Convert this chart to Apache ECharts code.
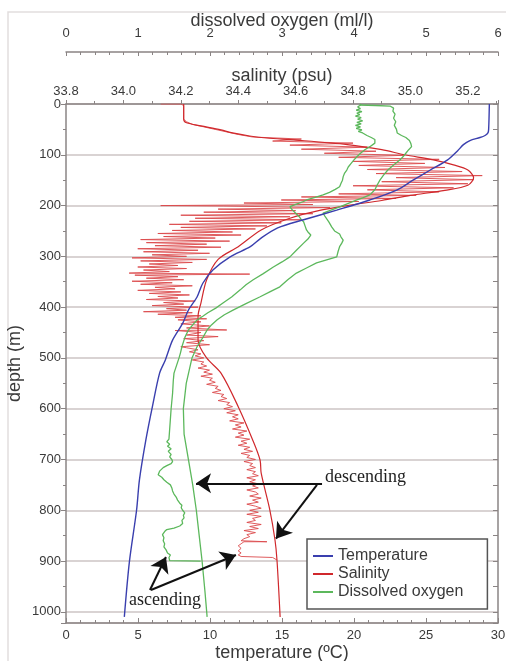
<!DOCTYPE html>
<html><head><meta charset="utf-8">
<script src="https://cdn.jsdelivr.net/npm/echarts@6/dist/echarts.min.js"></script>
<style>html,body{margin:0;padding:0;background:#fff}#c{width:506px;height:661px}</style>
</head><body><div id="c"></div>
<script>
// ---- data: [depth (m), value] ----
const temperatureProfile = [[0,29.4],[50,29.35],[57,29.3],[62,29.1],[66,28.75],[72,28.05],[80,27.6],[92,27.2],[110,26.5],[130,25.3],[150,24.1],[169,23.0],[189,21.1],[209,18.8],[228,16.5],[244,14.7],[265,13.5],[281,12.8],[301,11.4],[327,10.2],[353,9.5],[380,9.1],[406,8.5],[432,8.1],[465,7.4],[504,6.9],[530,6.5],[596,6.0],[661,5.55],[740,5.1],[800,4.9],[902,4.4],[1010,4.05]];

const salinityDescending = [[0,34.21],[30,34.21],[37,34.22],[43,34.27],[51,34.34],[57,34.38],[63,34.44],[67,34.5],[71,34.6],[80,34.78],[90,34.9],[100,34.98],[110,35.08],[120,35.15],[130,35.2],[145,35.22],[160,35.2],[170,35.12],[180,35.0],[190,34.9],[200,34.78],[210,34.68],[225,34.58],[248,34.48],[281,34.4],[306,34.33],[346,34.29],[392,34.27],[418,34.26],[465,34.26],[500,34.29],[530,34.34],[596,34.4],[661,34.45],[701,34.476],[727,34.48],[799,34.51],[858,34.528],[898,34.535],[1010,34.546]];

const salinityAscending = [[898,34.535],[893,34.52],[891,34.41],[888,34.40],[884,34.41],[880,34.40],[875,34.41],[870,34.40],[866,34.41],[862,34.42],[862,34.50],[860,34.41],[856,34.42],[852,34.44],[848,34.43],[844,34.46],[840,34.42],[836,34.47],[832,34.44],[828,34.48],[824,34.43],[820,34.46],[816,34.45],[812,34.48],[808,34.43],[804,34.47],[800,34.44],[796,34.48],[792,34.46],[788,34.43],[784,34.47],[780,34.45],[776,34.48],[772,34.44],[768,34.47],[764,34.46],[760,34.43],[756,34.47],[752,34.45],[748,34.47],[744,34.44],[740,34.46],[736,34.43],[732,34.47],[728,34.45],[724,34.46],[720,34.43],[716,34.46],[712,34.44],[708,34.45],[704,34.42],[700,34.46],[696,34.43],[692,34.44],[688,34.41],[684,34.45],[680,34.42],[676,34.44],[672,34.40],[668,34.43],[664,34.41],[660,34.44],[656,34.39],[652,34.42],[648,34.40],[644,34.43],[640,34.38],[636,34.41],[632,34.39],[628,34.42],[624,34.37],[620,34.40],[616,34.38],[612,34.40],[608,34.36],[604,34.39],[600,34.35],[596,34.38],[592,34.36],[588,34.37],[584,34.33],[580,34.36],[576,34.34],[572,34.35],[568,34.31],[564,34.34],[560,34.32],[556,34.33],[552,34.29],[548,34.32],[544,34.30],[540,34.31],[536,34.27],[532,34.31],[528,34.28],[524,34.30],[520,34.26],[516,34.29],[512,34.27],[508,34.28],[504,34.24],[500,34.28],[496,34.25],[492,34.27],[488,34.23],[484,34.26],[480,34.22],[478,34.20],[474,34.30],[470,34.22],[466,34.28],[462,34.21],[458,34.33],[455,34.22],[450,34.27],[446,34.18],[445,34.36],[441,34.22],[437,34.30],[433,34.20],[429,34.27],[425,34.19],[423,34.29],[420,34.18],[417,34.27],[414,34.12],[411,34.24],[409,34.07],[406,34.22],[403,34.15],[400,34.26],[397,34.10],[394,34.21],[391,34.14],[388,34.25],[385,34.08],[382,34.19],[379,34.12],[376,34.23],[373,34.09],[370,34.20],[367,34.05],[364,34.18],[361,34.11],[358,34.24],[355,34.06],[352,34.17],[349,34.03],[346,34.21],[343,34.08],[340,34.19],[337,34.04],[335,34.44],[333,34.02],[330,34.16],[327,34.07],[324,34.22],[321,34.05],[318,34.19],[315,34.09],[312,34.24],[309,34.06],[306,34.29],[303,34.03],[300,34.22],[297,34.10],[294,34.30],[291,34.07],[288,34.26],[285,34.05],[282,34.34],[279,34.11],[276,34.29],[273,34.08],[270,34.37],[267,34.06],[264,34.32],[261,34.14],[258,34.41],[255,34.12],[252,34.38],[249,34.17],[246,34.46],[243,34.20],[240,34.50],[237,34.16],[234,34.55],[231,34.23],[228,34.62],[225,34.25],[222,34.58],[219,34.20],[216,34.66],[213,34.28],[210,34.60],[207,34.33],[204,34.72],[201,34.35],[200,34.13],[198,34.66],[195,34.42],[192,34.82],[189,34.55],[186,34.95],[183,34.62],[180,35.02],[177,34.75],[173,35.10],[169,34.85],[165,35.15],[161,34.80],[157,35.20],[153,34.90],[149,35.22],[145,34.95],[141,35.25],[137,34.88],[133,35.18],[129,34.85],[125,35.12],[121,34.82],[117,35.05],[113,34.80],[109,35.10],[105,34.75],[101,34.98],[97,34.70],[93,34.88],[89,34.62],[85,34.85],[81,34.58],[77,34.80],[73,34.52],[69,34.62],[65,34.45],[60,34.40],[55,34.36],[50,34.32],[45,34.28],[40,34.24],[35,34.22],[30,34.21],[20,34.21],[10,34.21],[3,34.21],[0,34.20],[0,34.13]];

const oxygenDescending = [[2,4.08],[3,4.30],[4,4.50],[8,4.55],[14,4.54],[20,4.57],[28,4.55],[35,4.58],[42,4.56],[50,4.59],[57,4.60],[62,4.66],[66,4.72],[72,4.77],[78,4.79],[84,4.80],[90,4.76],[97,4.72],[104,4.68],[110,4.64],[120,4.55],[130,4.47],[140,4.41],[150,4.36],[160,4.32],[169,4.29],[179,4.22],[185,4.12],[189,4.04],[195,3.93],[202,3.81],[209,3.68],[215,3.57],[222,3.60],[232,3.65],[242,3.69],[250,3.73],[256,3.80],[262,3.82],[268,3.85],[274,3.83],[281,3.80],[290,3.78],[301,3.76],[307,3.62],[313,3.48],[323,3.34],[333,3.20],[346,3.08],[360,2.97],[370,2.83],[380,2.69],[393,2.50],[406,2.32],[415,2.20],[425,2.10],[435,2.02],[445,1.96],[460,1.90],[478,1.82],[500,1.75],[550,1.67],[600,1.63],[650,1.64],[700,1.70],[750,1.76],[800,1.81],[850,1.85],[900,1.89],[960,1.93],[1010,1.96]];

const oxygenAscending = [[900,1.87],[899,1.44],[893,1.43],[888,1.45],[884,1.41],[878,1.39],[872,1.36],[866,1.37],[860,1.35],[854,1.36],[848,1.34],[842,1.37],[838,1.40],[835,1.50],[831,1.58],[826,1.62],[820,1.61],[815,1.64],[810,1.63],[805,1.65],[800,1.62],[795,1.60],[790,1.61],[786,1.58],[780,1.55],[774,1.53],[768,1.50],[762,1.48],[756,1.47],[750,1.45],[745,1.40],[740,1.36],[735,1.33],[730,1.28],[727,1.26],[723,1.30],[720,1.28],[716,1.35],[712,1.40],[708,1.46],[704,1.48],[700,1.47],[695,1.44],[690,1.46],[684,1.42],[679,1.46],[674,1.41],[670,1.44],[665,1.40],[660,1.43],[640,1.44],[620,1.45],[600,1.46],[570,1.48],[545,1.49],[530,1.50],[500,1.57],[490,1.59],[478,1.61],[460,1.65],[445,1.70],[435,1.76],[425,1.82],[418,1.90],[411,1.97],[402,2.08],[392,2.18],[380,2.30],[366,2.42],[356,2.50],[346,2.60],[334,2.74],[321,2.88],[311,3.00],[301,3.11],[288,3.20],[274,3.30],[266,3.36],[258,3.40],[252,3.36],[248,3.34],[240,3.32],[232,3.30],[228,3.27],[222,3.24],[215,3.19],[208,3.14],[202,3.11],[197,3.20],[192,3.30],[189,3.34],[184,3.46],[179,3.57],[174,3.66],[168,3.74],[163,3.80],[156,3.82],[150,3.84],[143,3.85],[136,3.87],[130,3.90],[124,3.92],[117,3.96],[110,4.00],[104,4.04],[97,4.09],[90,4.15],[84,4.22],[77,4.29],[70,4.29],[66,4.24],[62,4.18],[59,4.16],[57,4.12],[54,4.06],[51,4.11],[48,4.03],[45,4.09],[42,4.02],[39,4.10],[36,4.04],[33,4.12],[30,4.05],[27,4.10],[24,4.02],[21,4.08],[18,4.04],[15,4.11],[12,4.03],[9,4.09],[6,4.05],[3,4.08],[0,4.10]];

const depthTickLabels = [0,100,200,300,400,500,600,700,800,900,1000];
const temperatureTickLabels = [0,5,10,15,20,25,30];
const salinityTickLabels = ['33.8','34.0','34.2','34.4','34.6','34.8','35.0','35.2'];
const oxygenTickLabels = [0,1,2,3,4,5,6];
const legendNames = ['Temperature','Salinity','Dissolved oxygen'];

// annotation anchors in data space [temperature, depth]
const annotations = {
  arrows: [
    [[17.78,747],[9.03,747]],
    [[17.43,750],[14.58,856]],
    [[5.83,957],[6.94,892]],
    [[5.9,957],[11.8,888]]
  ],
  texts: [
    {coord:[20.8,736], text:'descending'},
    {coord:[6.875,977], text:'ascending'}
  ]
};

const toXY = pairs => pairs.map(p => [p[1], p[0]]);
const SANS = 'Liberation Sans, Arial, sans-serif';
const AX = '#8a8484';
const TXT = '#3a3a3a';
const BLUE = '#3a3fae', RED = '#d0282c', GREEN = '#5cb85c';

const chart = echarts.init(document.getElementById('c'), null, {renderer:'canvas'});
chart.setOption({
  animation:false,
  backgroundColor:'#fff',
  textStyle:{fontFamily:SANS},
  graphic:[{type:'rect', shape:{x:8,y:12,width:520,height:670}, style:{fill:'none', stroke:'#e2dede', lineWidth:1.5}, silent:true, z:-10}],
  grid:{left:66, right:8, top:104, bottom:38, containLabel:false, outerBoundsMode:'none'},
  legend:{
    data:legendNames, orient:'vertical', left:307, top:539,
    padding:[9,24,9,6], itemGap:2, itemWidth:20, itemHeight:2, icon:'rect',
    backgroundColor:'#fff', borderColor:'#555', borderWidth:1.5, borderRadius:0,
    selectedMode:false,
    textStyle:{fontSize:16, color:TXT, fontFamily:SANS}
  },
  xAxis:[
    {type:'value', position:'bottom', min:temperatureTickLabels[0], max:temperatureTickLabels[temperatureTickLabels.length-1], interval:5,
     name:'temperature (ºC)', nameLocation:'middle', nameGap:21, nameMoveOverlap:false, nameTextStyle:{fontSize:18, color:TXT, fontFamily:SANS},
     axisLine:{show:true, onZero:false, lineStyle:{color:AX, width:1.5}},
     axisTick:{show:true, inside:true, length:5, lineStyle:{color:AX}},
     minorTick:{show:true, splitNumber:5, length:3, lineStyle:{color:AX}},
     axisLabel:{fontSize:13, color:TXT, margin:6, fontFamily:SANS},
     splitLine:{show:false}},
    {type:'value', position:'top', min:33.8, max:35.305, interval:0.2,
     name:'salinity (psu)', nameLocation:'middle', nameGap:19, nameMoveOverlap:false, nameTextStyle:{fontSize:18, color:TXT, fontFamily:SANS},
     axisLine:{show:true, onZero:false, lineStyle:{color:AX, width:1.5}},
     axisTick:{show:true, inside:false, length:4, lineStyle:{color:AX}},
     minorTick:{show:true, splitNumber:2, length:3, lineStyle:{color:AX}},
     axisLabel:{fontSize:13, color:TXT, margin:6, showMaxLabel:false, fontFamily:SANS,
       formatter:v => { const s = v.toFixed(1); return salinityTickLabels.indexOf(s) >= 0 ? s : ''; }},
     splitLine:{show:false}},
    {type:'value', position:'top', offset:52, min:oxygenTickLabels[0], max:oxygenTickLabels[oxygenTickLabels.length-1], interval:1,
     name:'dissolved oxygen (ml/l)', nameLocation:'middle', nameGap:22, nameMoveOverlap:false, nameTextStyle:{fontSize:18, color:TXT, fontFamily:SANS},
     axisLine:{show:true, onZero:false, lineStyle:{color:AX, width:1.5}},
     axisTick:{show:true, inside:true, length:4, lineStyle:{color:AX}},
     minorTick:{show:true, splitNumber:5, length:3, lineStyle:{color:AX}},
     axisLabel:{fontSize:13, color:TXT, margin:12, fontFamily:SANS},
     splitLine:{show:false}}
  ],
  yAxis:[
    {type:'value', inverse:true, min:0, max:1022, interval:100,
     name:'depth (m)', nameLocation:'middle', nameGap:42, nameRotate:90, nameMoveOverlap:false, nameTextStyle:{fontSize:18, color:TXT, fontFamily:SANS},
     axisLine:{show:true, onZero:false, lineStyle:{color:AX, width:1.5}},
     axisTick:{show:true, inside:false, length:5, lineStyle:{color:AX}},
     minorTick:{show:true, splitNumber:2, length:3, lineStyle:{color:AX}},
     axisLabel:{fontSize:13, color:TXT, margin:5, showMaxLabel:false, fontFamily:SANS,
       formatter:v => depthTickLabels.indexOf(v) >= 0 ? String(v) : ''},
     splitLine:{show:true, lineStyle:{color:'#cdc4c4', width:1.5}}},
    {type:'value', inverse:true, position:'right', min:0, max:1022, interval:100,
     axisLine:{show:true, onZero:false, lineStyle:{color:AX, width:1.5}},
     axisTick:{show:true, inside:true, length:5, lineStyle:{color:AX}},
     minorTick:{show:true, splitNumber:2, length:5, lineStyle:{color:AX}},
     axisLabel:{show:false}, splitLine:{show:false}}
  ],
  series:[
    {name:'Salinity', type:'line', xAxisIndex:1, yAxisIndex:0, data:toXY(salinityAscending),
     showSymbol:false, symbol:'none', lineStyle:{color:'#db4a4d', width:1, opacity:0.9}, itemStyle:{color:RED}, z:2},
    {name:'Salinity', type:'line', xAxisIndex:1, yAxisIndex:0, data:toXY(salinityDescending),
     showSymbol:false, symbol:'none', smooth:0.3, lineStyle:{color:RED, width:1.2}, itemStyle:{color:RED}, z:2},
    {name:'Dissolved oxygen', type:'line', xAxisIndex:2, yAxisIndex:0, data:toXY(oxygenAscending),
     showSymbol:false, symbol:'none', lineStyle:{color:GREEN, width:1.3}, itemStyle:{color:GREEN}, z:3},
    {name:'Dissolved oxygen', type:'line', xAxisIndex:2, yAxisIndex:0, data:toXY(oxygenDescending),
     showSymbol:false, symbol:'none', lineStyle:{color:GREEN, width:1.3}, itemStyle:{color:GREEN}, z:3},
    {name:'Temperature', type:'line', xAxisIndex:0, yAxisIndex:0, data:toXY(temperatureProfile),
     showSymbol:false, symbol:'none', smooth:0.3, lineStyle:{color:BLUE, width:1.4}, itemStyle:{color:BLUE}, z:4,
     markLine:{silent:true, animation:false, symbol:['none','arrow'], symbolSize:15, precision:3,
       label:{show:false}, emphasis:{disabled:true},
       lineStyle:{color:'#111', width:2, type:'solid'},
       data:annotations.arrows.map(a => [{coord:a[0]},{coord:a[1]}])},
     markPoint:{silent:true, animation:false, symbol:'rect', symbolSize:1, itemStyle:{color:'rgba(0,0,0,0)'},
       label:{show:true, position:'inside', color:'#222', fontSize:18, fontFamily:'Liberation Serif, Times New Roman, serif'},
       data:annotations.texts.map(t => ({coord:t.coord, label:{formatter:t.text}}))}
    }
  ]
});
</script>
</body></html>
